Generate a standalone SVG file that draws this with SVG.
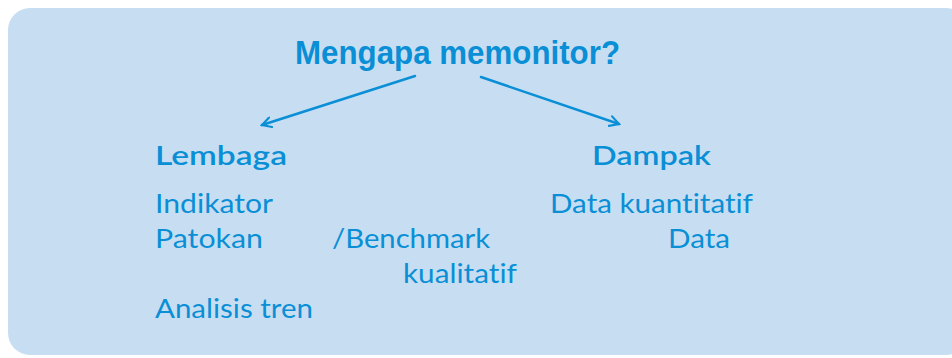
<svg xmlns="http://www.w3.org/2000/svg" width="952" height="358" viewBox="0 0 952 358">
<style>
.t{font-family:Lato,"Open Sans","Liberation Sans",sans-serif;fill:#0a8fd6;font-size:27.5px;font-variant-ligatures:none}
.h{font-weight:600}
.title{font-family:"Liberation Sans",Arial,sans-serif;font-weight:bold;fill:#0a8fd6;font-size:34px}
.c{stroke:#0a8fd6;stroke-width:2.5;fill:none;stroke-linecap:round;stroke-linejoin:round}
</style>
<defs>
<marker id="ah" viewBox="0 0 12 12" refX="10" refY="6" markerWidth="12" markerHeight="12" markerUnits="userSpaceOnUse" orient="auto">
<path d="M1,1 L10,6 L1,11" fill="none" stroke="#0a8fd6" stroke-width="2.2" stroke-linecap="round"/>
</marker>
</defs>
<rect x="8" y="8" width="960" height="347" rx="22" fill="#c7def2"/>
<g id="title"><text class="title" x="295" y="64" textLength="325" lengthAdjust="spacingAndGlyphs">Mengapa memonitor?</text></g>
<g id="connectors">
<line class="c" x1="415" y1="76" x2="262" y2="125" marker-end="url(#ah)"/>
<line class="c" x1="481" y1="77" x2="619" y2="124" marker-end="url(#ah)"/>
</g>
<g id="lembaga">
<text class="t h" x="155" y="165" textLength="132" lengthAdjust="spacingAndGlyphs">Lembaga</text>
<text class="t" x="155" y="213" textLength="118" lengthAdjust="spacingAndGlyphs">Indikator</text>
<text class="t" x="155" y="248" textLength="108" lengthAdjust="spacingAndGlyphs">Patokan</text>
<text class="t" x="332" y="248" textLength="158" lengthAdjust="spacingAndGlyphs">/Benchmark</text>
<text class="t" x="403" y="283" textLength="114" lengthAdjust="spacingAndGlyphs">kualitatif</text>
<text class="t" x="155" y="318" textLength="158" lengthAdjust="spacingAndGlyphs">Analisis tren</text>
</g>
<g id="dampak">
<text class="t h" x="592" y="165" textLength="119" lengthAdjust="spacingAndGlyphs">Dampak</text>
<text class="t" x="550" y="213" textLength="203" lengthAdjust="spacingAndGlyphs">Data kuantitatif</text>
<text class="t" x="668" y="248" textLength="62" lengthAdjust="spacingAndGlyphs">Data</text>
</g>
</svg>
